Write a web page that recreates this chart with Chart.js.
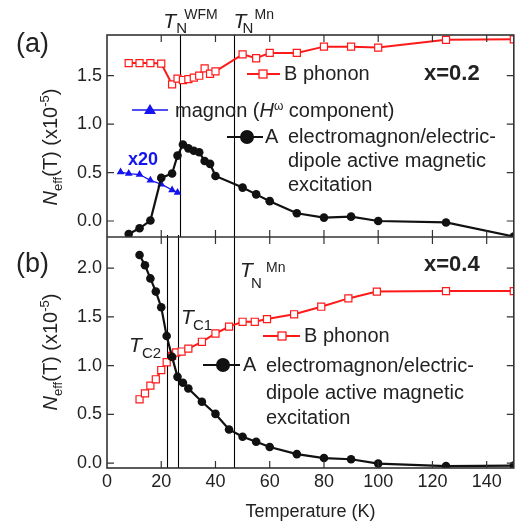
<!DOCTYPE html>
<html>
<head>
<meta charset="utf-8">
<script src="https://cdn.jsdelivr.net/npm/chart.js@4.4.1/dist/chart.umd.min.js"></script>
<style>
  html, body { margin: 0; padding: 0; background: #fff; }
</style>
</head>
<body>
<canvas id="chart" width="520" height="525"></canvas>
<script>
// panel (a), x = 0.2
const tempA = [8, 12, 16, 20, 24, 26, 28, 30, 32, 34, 36, 38, 40, 50, 55, 60, 70, 80, 90, 100, 125, 150];
const phononA = [1.63, 1.63, 1.63, 1.625, 1.41, 1.47, 1.455, 1.465, 1.48, 1.50, 1.575, 1.52, 1.545, 1.72, 1.68, 1.735, 1.735, 1.80, 1.80, 1.79, 1.87, 1.875];
const electroA = [-0.135, -0.075, 0.005, 0.445, 0.49, 0.675, 0.79, 0.75, 0.725, 0.71, 0.62, 0.59, 0.465, 0.345, 0.275, 0.205, 0.08, 0.035, 0.045, 0.0, -0.015, -0.16];
const tempMagnon = [5, 8, 12, 16, 20, 24, 26];
const magnonA = [0.505, 0.49, 0.48, 0.42, 0.38, 0.32, 0.295];

// panel (b), x = 0.4
const tempElectroB = [12, 14, 16, 18, 20, 22, 24, 26, 28, 30, 35, 40, 45, 50, 55, 60, 70, 80, 90, 100, 125, 150];
const electroB = [2.135, 2.03, 1.895, 1.76, 1.60, 1.305, 1.09, 0.885, 0.825, 0.765, 0.63, 0.505, 0.345, 0.27, 0.22, 0.165, 0.092, 0.052, 0.04, -0.005, -0.03, -0.025];
const tempPhononB = [12, 14, 16, 18, 20, 22, 24, 25.5, 27.5, 30, 35, 40, 45, 50, 54.5, 59, 69, 79, 89, 99.5, 125, 150];
const phononB = [0.655, 0.715, 0.795, 0.86, 0.955, 1.035, 1.10, 1.135, 1.145, 1.175, 1.245, 1.33, 1.40, 1.45, 1.45, 1.478, 1.527, 1.605, 1.69, 1.76, 1.765, 1.765];

// transition temperatures (vertical lines)
const linesA = [27, 47];
const linesB = [22, 26, 47];

const xTickValues = [20, 40, 60, 80, 100, 120, 140];
const yTicksA = [0, 0.5, 1.0, 1.5];
const yTicksB = [0, 0.5, 1.0, 1.5, 2.0];

const FONT = '"Liberation Sans", Arial, Helvetica, sans-serif';
const RED = '#ff1a1a';
const BLUE = '#1414f0';
const BLACK = '#111';
const TEXT = '#222';

function pts(xs, ys) {
  return xs.map((x, i) => ({ x: x, y: ys[i] }));
}

function f(size, style) {
  return (style ? style + ' ' : '') + size + 'px ' + FONT;
}

// draw a row of text pieces, each {t, font, dy}
function rich(ctx, pieces, x, y, color, align) {
  ctx.fillStyle = color;
  ctx.textBaseline = 'alphabetic';
  ctx.textAlign = 'left';
  let w = 0;
  pieces.forEach(p => { ctx.font = p.font; w += ctx.measureText(p.t).width; });
  let cx = align === 'center' ? x - w / 2 : x;
  pieces.forEach(p => {
    ctx.font = p.font;
    ctx.fillText(p.t, cx, y + (p.dy || 0));
    cx += ctx.measureText(p.t).width;
  });
}

function text(ctx, s, x, y, font, color) {
  ctx.font = font;
  ctx.fillStyle = color;
  ctx.textAlign = 'left';
  ctx.textBaseline = 'middle';
  ctx.fillText(s, x, y);
}

function legendLine(ctx, x1, x2, y, color, width) {
  ctx.strokeStyle = color;
  ctx.lineWidth = width;
  ctx.beginPath();
  ctx.moveTo(x1, y);
  ctx.lineTo(x2, y);
  ctx.stroke();
}

const framePlugin = {
  id: 'frame',
  beforeDatasetsDraw(chart) {
    const ctx = chart.ctx;
    const x = chart.scales.x, ya = chart.scales.yA, yb = chart.scales.yB;
    ctx.save();
    ctx.strokeStyle = '#000';
    ctx.lineWidth = 1.1;
    linesA.forEach(t => {
      const px = Math.round(x.getPixelForValue(t)) + 0.5;
      ctx.beginPath(); ctx.moveTo(px, ya.top); ctx.lineTo(px, ya.bottom); ctx.stroke();
    });
    linesB.forEach(t => {
      const px = Math.round(x.getPixelForValue(t)) + 0.5;
      ctx.beginPath(); ctx.moveTo(px, yb.top - 2); ctx.lineTo(px, yb.bottom); ctx.stroke();
    });
    ctx.restore();
  },
  afterDatasetsDraw(chart) {
    const ctx = chart.ctx;
    const x = chart.scales.x, ya = chart.scales.yA, yb = chart.scales.yB;
    const L = x.left, R = x.right;
    ctx.save();
    // frame
    ctx.strokeStyle = '#333';
    ctx.lineWidth = 1.6;
    ctx.strokeRect(L, ya.top, R - L, yb.bottom - ya.top);
    ctx.beginPath(); ctx.moveTo(L, ya.bottom); ctx.lineTo(R, ya.bottom); ctx.stroke();
    // inward ticks
    ctx.lineWidth = 1.2;
    const tl = 7;
    ctx.beginPath();
    xTickValues.forEach(v => {
      const px = x.getPixelForValue(v);
      ctx.moveTo(px, ya.top); ctx.lineTo(px, ya.top + tl);
      ctx.moveTo(px, ya.bottom - tl); ctx.lineTo(px, ya.bottom + tl);
      ctx.moveTo(px, yb.bottom); ctx.lineTo(px, yb.bottom - tl);
    });
    yTicksA.forEach(v => {
      const py = ya.getPixelForValue(v);
      ctx.moveTo(L, py); ctx.lineTo(L + tl, py);
      ctx.moveTo(R, py); ctx.lineTo(R - tl, py);
    });
    yTicksB.forEach(v => {
      const py = yb.getPixelForValue(v);
      ctx.moveTo(L, py); ctx.lineTo(L + tl, py);
      ctx.moveTo(R, py); ctx.lineTo(R - tl, py);
    });
    ctx.stroke();
    ctx.restore();
  },
  afterDraw(chart) {
    const ctx = chart.ctx;
    const x = chart.scales.x;
    ctx.save();

    // panel labels
    text(ctx, '(a)', 16, 45, f(27), TEXT);
    text(ctx, '(b)', 16, 265, f(27), TEXT);
    text(ctx, 'x=0.2', 424, 74, f(22, 'bold'), TEXT);
    text(ctx, 'x=0.4', 424, 265, f(22, 'bold'), TEXT);

    // transition labels
    const tw = x.getPixelForValue(linesA[0]);
    rich(ctx, [{ t: 'T', font: f(21, 'italic') }], tw - 17, 28, TEXT);
    rich(ctx, [{ t: 'N', font: f(15) }], tw - 4, 33, TEXT);
    rich(ctx, [{ t: 'WFM', font: f(14) }], tw + 4, 19, TEXT);
    const tm = x.getPixelForValue(linesA[1]);
    rich(ctx, [{ t: 'T', font: f(21, 'italic') }], tm - 1, 28, TEXT);
    rich(ctx, [{ t: 'N', font: f(15) }], tm + 8, 33, TEXT);
    rich(ctx, [{ t: 'Mn', font: f(14) }], tm + 20, 19, TEXT);

    rich(ctx, [{ t: 'T', font: f(21, 'italic') }], 240, 277, TEXT);
    rich(ctx, [{ t: 'N', font: f(15) }], 251, 288, TEXT);
    rich(ctx, [{ t: 'Mn', font: f(14) }], 266, 272, TEXT);
    rich(ctx, [{ t: 'T', font: f(21, 'italic') }], 181, 324, TEXT);
    rich(ctx, [{ t: 'C1', font: f(15) }], 193, 330, TEXT);
    rich(ctx, [{ t: 'T', font: f(21, 'italic') }], 129, 352, TEXT);
    rich(ctx, [{ t: 'C2', font: f(15) }], 142, 358, TEXT);

    // y axis titles
    [[147], [352]].forEach(([cy]) => {
      ctx.save();
      ctx.translate(57, cy);
      ctx.rotate(-Math.PI / 2);
      rich(ctx, [
        { t: 'N', font: f(20, 'italic') },
        { t: 'eff', font: f(13), dy: 5 },
        { t: '(T) (x10', font: f(20) },
        { t: '-5', font: f(13), dy: -8 },
        { t: ')', font: f(20) }
      ], 0, 0, TEXT, 'center');
      ctx.restore();
    });

    // legend (a)
    legendLine(ctx, 247, 280, 74, RED, 2);
    ctx.fillStyle = '#fff'; ctx.strokeStyle = RED; ctx.lineWidth = 1.3;
    ctx.fillRect(259, 70, 8, 8); ctx.strokeRect(259, 70, 8, 8);
    text(ctx, 'B phonon', 284, 74, f(20), TEXT);

    legendLine(ctx, 132, 168, 110, BLUE, 1.5);
    ctx.fillStyle = BLUE;
    ctx.beginPath(); ctx.moveTo(150, 104); ctx.lineTo(156, 114); ctx.lineTo(144, 114); ctx.closePath(); ctx.fill();
    rich(ctx, [
      { t: 'magnon (', font: f(20) },
      { t: 'H', font: f(20, 'italic') },
      { t: '\u03c9', font: f(12), dy: -7 },
      { t: ' component)', font: f(20) }
    ], 175, 117, TEXT);

    legendLine(ctx, 227, 263, 137, BLACK, 2);
    ctx.fillStyle = BLACK;
    ctx.beginPath(); ctx.arc(247, 137, 7, 0, Math.PI * 2); ctx.fill();
    text(ctx, 'A', 265, 137, f(20), TEXT);
    text(ctx, 'electromagnon/electric-', 288, 137, f(20), TEXT);
    text(ctx, 'dipole active magnetic', 288, 161, f(20), TEXT);
    text(ctx, 'excitation', 288, 185, f(20), TEXT);

    text(ctx, 'x20', 128, 160, f(18, 'bold'), BLUE);

    // legend (b)
    legendLine(ctx, 263, 300, 336, RED, 2);
    ctx.fillStyle = '#fff'; ctx.strokeStyle = RED; ctx.lineWidth = 1.3;
    ctx.fillRect(278, 332, 8, 8); ctx.strokeRect(278, 332, 8, 8);
    text(ctx, 'B phonon', 304, 336, f(20), TEXT);

    legendLine(ctx, 203, 240, 365, BLACK, 2);
    ctx.fillStyle = BLACK;
    ctx.beginPath(); ctx.arc(223, 365, 7, 0, Math.PI * 2); ctx.fill();
    text(ctx, 'A', 243, 365, f(20), TEXT);
    text(ctx, 'electromagnon/electric-', 266, 366, f(20), TEXT);
    text(ctx, 'dipole active magnetic', 266, 393, f(20), TEXT);
    text(ctx, 'excitation', 266, 418, f(20), TEXT);

    ctx.restore();
  }
};

const yCommon = {
  type: 'linear',
  position: 'left',
  stack: 'panels',
  grid: { display: false, drawTicks: false },
  border: { display: false },
  ticks: {
    stepSize: 0.5,
    includeBounds: false,
    padding: 5,
    color: TEXT,
    font: { size: 18, family: FONT },
    callback: v => Number(v).toFixed(1)
  },
  afterFit: s => { s.width = 107; }
};

new Chart(document.getElementById('chart'), {
  type: 'line',
  data: {
    datasets: [
      {
        label: 'A electromagnon (b)',
        data: pts(tempElectroB, electroB),
        yAxisID: 'yB',
        borderColor: BLACK, backgroundColor: BLACK,
        borderWidth: 2.2, pointRadius: 4.3, pointStyle: 'circle',
        pointBorderWidth: 0, tension: 0
      },
      {
        label: 'A electromagnon (a)',
        data: pts(tempA, electroA),
        yAxisID: 'yA',
        borderColor: BLACK, backgroundColor: BLACK,
        borderWidth: 2.2, pointRadius: 4.3, pointStyle: 'circle',
        pointBorderWidth: 0, tension: 0
      },
      {
        label: 'magnon',
        data: pts(tempMagnon, magnonA),
        yAxisID: 'yA',
        borderColor: BLUE, backgroundColor: BLUE,
        borderWidth: 1.3, pointRadius: 4.5, pointStyle: 'triangle',
        pointBorderWidth: 0, tension: 0
      },
      {
        label: 'B phonon (a)',
        data: pts(tempA, phononA),
        yAxisID: 'yA',
        borderColor: RED, backgroundColor: '#fff',
        borderWidth: 2, pointRadius: 5, pointStyle: 'rect',
        pointBorderWidth: 1.2, tension: 0
      },
      {
        label: 'B phonon (b)',
        data: pts(tempPhononB, phononB),
        yAxisID: 'yB',
        borderColor: RED, backgroundColor: '#fff',
        borderWidth: 2, pointRadius: 5, pointStyle: 'rect',
        pointBorderWidth: 1.2, tension: 0
      }
    ]
  },
  options: {
    responsive: false,
    animation: false,
    layout: { padding: { top: 35, right: 3, left: 0, bottom: 0 } },
    plugins: { legend: { display: false }, tooltip: { enabled: false } },
    scales: {
      x: {
        type: 'linear',
        min: 0, max: 150,
        grid: { display: false, drawTicks: false },
        border: { display: false },
        ticks: {
          stepSize: 20, includeBounds: false, padding: 3, maxRotation: 0,
          color: TEXT, font: { size: 18, family: FONT }
        },
        title: {
          display: true, text: 'Temperature (K)', color: TEXT,
          font: { size: 18, family: FONT }, padding: { top: 0, bottom: 2 }
        },
        afterFit: s => { s.height = 57; }
      },
      yB: Object.assign({}, yCommon, { min: -0.05, max: 2.32, stackWeight: 231 }),
      yA: Object.assign({}, yCommon, { min: -0.165, max: 1.92, stackWeight: 202 })
    }
  },
  plugins: [framePlugin]
});
</script>
</body>
</html>
